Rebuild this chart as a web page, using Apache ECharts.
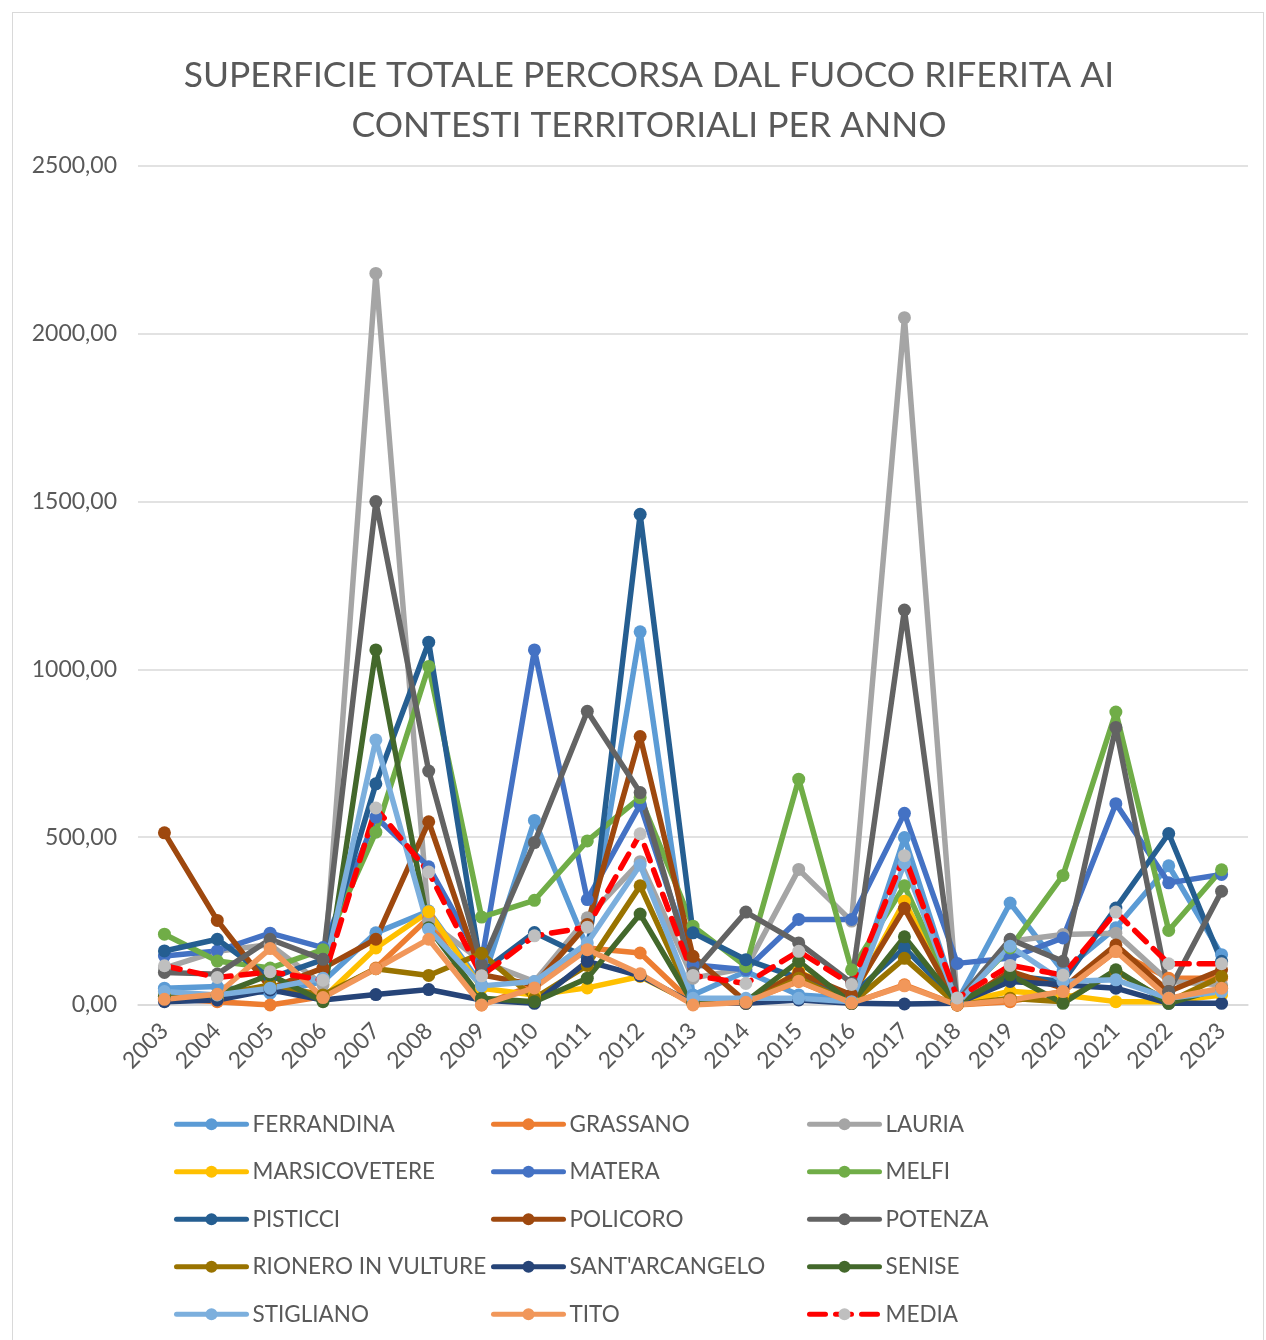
<!DOCTYPE html>
<html>
<head>
<meta charset="utf-8">
<script src="https://cdn.jsdelivr.net/npm/echarts@6/dist/echarts.min.js"></script>
<style>
  body { margin: 0; background: #fff; }
  #frame { position: absolute; left: 12px; top: 12px; width: 1252px; height: 1340px; border: 1px solid #d9d9d9; box-sizing: border-box; }
  #chart { position: absolute; left: 0; top: 0; width: 1266px; height: 1340px; }
</style>
</head>
<body>
<div id="frame"></div>
<div id="chart"></div>
<script>
// anni
const years = ['2003','2004','2005','2006','2007','2008','2009','2010','2011','2012','2013',
  '2014','2015','2016','2017','2018','2019','2020','2021','2022','2023']

const yTicks = [0, 500, 1000, 1500, 2000, 2500]

// superficie per contesto (ha)
const ferrandina = [50, 55, 35, 70, 215, 280, 60, 550, 170, 1112, 30, 100, 30, 20, 499, 10, 304, 100, 230, 415, 150]
const grassano = [20, 10, 0, 25, 110, 260, 0, 60, 170, 155, 5, 10, 70, 5, 60, 0, 10, 40, 160, 80, 80]
const lauria = [110, 160, 180, 60, 2180, 250, 130, 70, 260, 427, 80, 110, 404, 250, 2048, 10, 190, 210, 214, 70, 60]
const marsicovetere = [30, 20, 60, 20, 170, 278, 50, 30, 51, 85, 5, 5, 100, 20, 309, 5, 41, 30, 10, 10, 30]
const matera = [146, 161, 214, 171, 560, 412, 130, 1058, 314, 597, 120, 105, 255, 255, 571, 124, 140, 200, 600, 364, 389]
const melfi = [211, 131, 110, 165, 515, 1009, 262, 312, 489, 618, 235, 115, 673, 105, 355, 10, 170, 386, 873, 222, 403]
const pisticci = [161, 196, 80, 135, 659, 1081, 98, 216, 140, 1462, 215, 135, 80, 30, 170, 10, 87, 70, 289, 511, 130]
const policoro = [513, 252, 50, 110, 196, 546, 90, 60, 240, 800, 145, 10, 96, 30, 288, 0, 100, 50, 179, 40, 105]
const potenza = [97, 92, 196, 136, 1500, 697, 120, 484, 875, 633, 96, 277, 185, 66, 1177, 10, 196, 130, 827, 40, 339]
const rionero = [25, 30, 60, 30, 108, 88, 154, 20, 118, 355, 10, 5, 80, 5, 139, 0, 20, 10, 100, 10, 85]
const santArcangelo = [10, 15, 45, 15, 31, 46, 15, 5, 130, 87, 5, 5, 15, 5, 3, 5, 70, 60, 50, 5, 5]
const senise = [25, 30, 90, 10, 1058, 230, 20, 10, 80, 271, 5, 10, 130, 5, 203, 5, 90, 5, 105, 5, 50]
const stigliano = [40, 30, 50, 80, 790, 226, 57, 70, 185, 417, 20, 20, 20, 10, 422, 5, 175, 70, 75, 20, 40]
const tito = [17, 32, 168, 22, 108, 196, 0, 51, 165, 93, 0, 8, 71, 6, 57, 0, 15, 40, 160, 20, 50]
const media = [117, 82, 99, 74, 587, 396, 87, 206, 232, 510, 88, 64, 160, 61, 445, 21, 118, 89, 277, 123, 123]

const FONT = 'Lato'
const GREY = '#595959'

function line(name, data, color) {
  return {
    name: name,
    type: 'line',
    data: data,
    symbol: 'circle',
    symbolSize: 13,
    lineStyle: { color: color, width: 5.5, join: 'round', cap: 'round' },
    itemStyle: { color: color }
  }
}

const series = [
  line('FERRANDINA', ferrandina, '#5B9BD5'),
  line('GRASSANO', grassano, '#ED7D31'),
  line('LAURIA', lauria, '#A5A5A5'),
  line('MARSICOVETERE', marsicovetere, '#FFC000'),
  line('MATERA', matera, '#4472C4'),
  line('MELFI', melfi, '#70AD47'),
  line('PISTICCI', pisticci, '#255E91'),
  line('POLICORO', policoro, '#9E480E'),
  line('POTENZA', potenza, '#636363'),
  line('RIONERO IN VULTURE', rionero, '#997300'),
  line("SANT'ARCANGELO", santArcangelo, '#264478'),
  line('SENISE', senise, '#43682B'),
  line('STIGLIANO', stigliano, '#7CAFDD'),
  line('TITO', tito, '#F1975A'),
  {
    name: 'MEDIA',
    type: 'line',
    data: media,
    symbol: 'circle',
    symbolSize: 13,
    lineStyle: { color: '#FF0000', width: 5.5, type: [16, 10], cap: 'round' },
    itemStyle: { color: '#BFBFBF' }
  }
]

// legenda su tre colonne
const columns = [
  ['FERRANDINA', 'MARSICOVETERE', 'PISTICCI', 'RIONERO IN VULTURE', 'STIGLIANO'],
  ['GRASSANO', 'MATERA', 'POLICORO', "SANT'ARCANGELO", 'TITO'],
  ['LAURIA', 'MELFI', 'POTENZA', 'SENISE', 'MEDIA']
]
const legendLeft = [169, 486, 802]
const legends = columns.map((col, i) => ({
  data: col,
  orient: 'vertical',
  left: legendLeft[i],
  top: 1107,
  itemWidth: 70,
  itemHeight: 15,
  itemGap: 23,
  lineStyle: { width: 5, cap: 'round' },
  textStyle: { fontFamily: FONT, fontSize: 22.5, color: GREY, lineHeight: 24.5, padding: [0, 0, 0, 1] }
}))

const chart = echarts.init(document.getElementById('chart'))
chart.setOption({
  animation: false,
  backgroundColor: 'transparent',
  title: {
    text: 'SUPERFICIE TOTALE PERCORSA DAL FUOCO RIFERITA AI\nCONTESTI TERRITORIALI PER ANNO',
    left: 644,
    textAlign: 'center',
    top: 46,
    textStyle: { fontFamily: FONT, fontSize: 35.4, fontWeight: 'normal', color: GREY, lineHeight: 50 }
  },
  legend: legends,
  grid: { left: 138, right: 18, top: 166, bottom: 335 },
  xAxis: {
    type: 'category',
    data: years,
    boundaryGap: true,
    axisLine: { lineStyle: { color: '#d9d9d9', width: 1.5 } },
    axisTick: { show: false },
    axisLabel: { rotate: 45, margin: 22, fontFamily: FONT, fontSize: 23, color: GREY }
  },
  yAxis: {
    type: 'value',
    min: yTicks[0],
    max: yTicks[yTicks.length - 1],
    interval: 500,
    axisLine: { show: false },
    axisTick: { show: false },
    splitLine: { lineStyle: { color: '#d9d9d9', width: 1.5 } },
    axisLabel: {
      margin: 21,
      fontFamily: FONT,
      fontSize: 23,
      color: GREY,
      formatter: v => v.toFixed(2).replace('.', ',')
    }
  },
  series: series
})
</script>
</body>
</html>
